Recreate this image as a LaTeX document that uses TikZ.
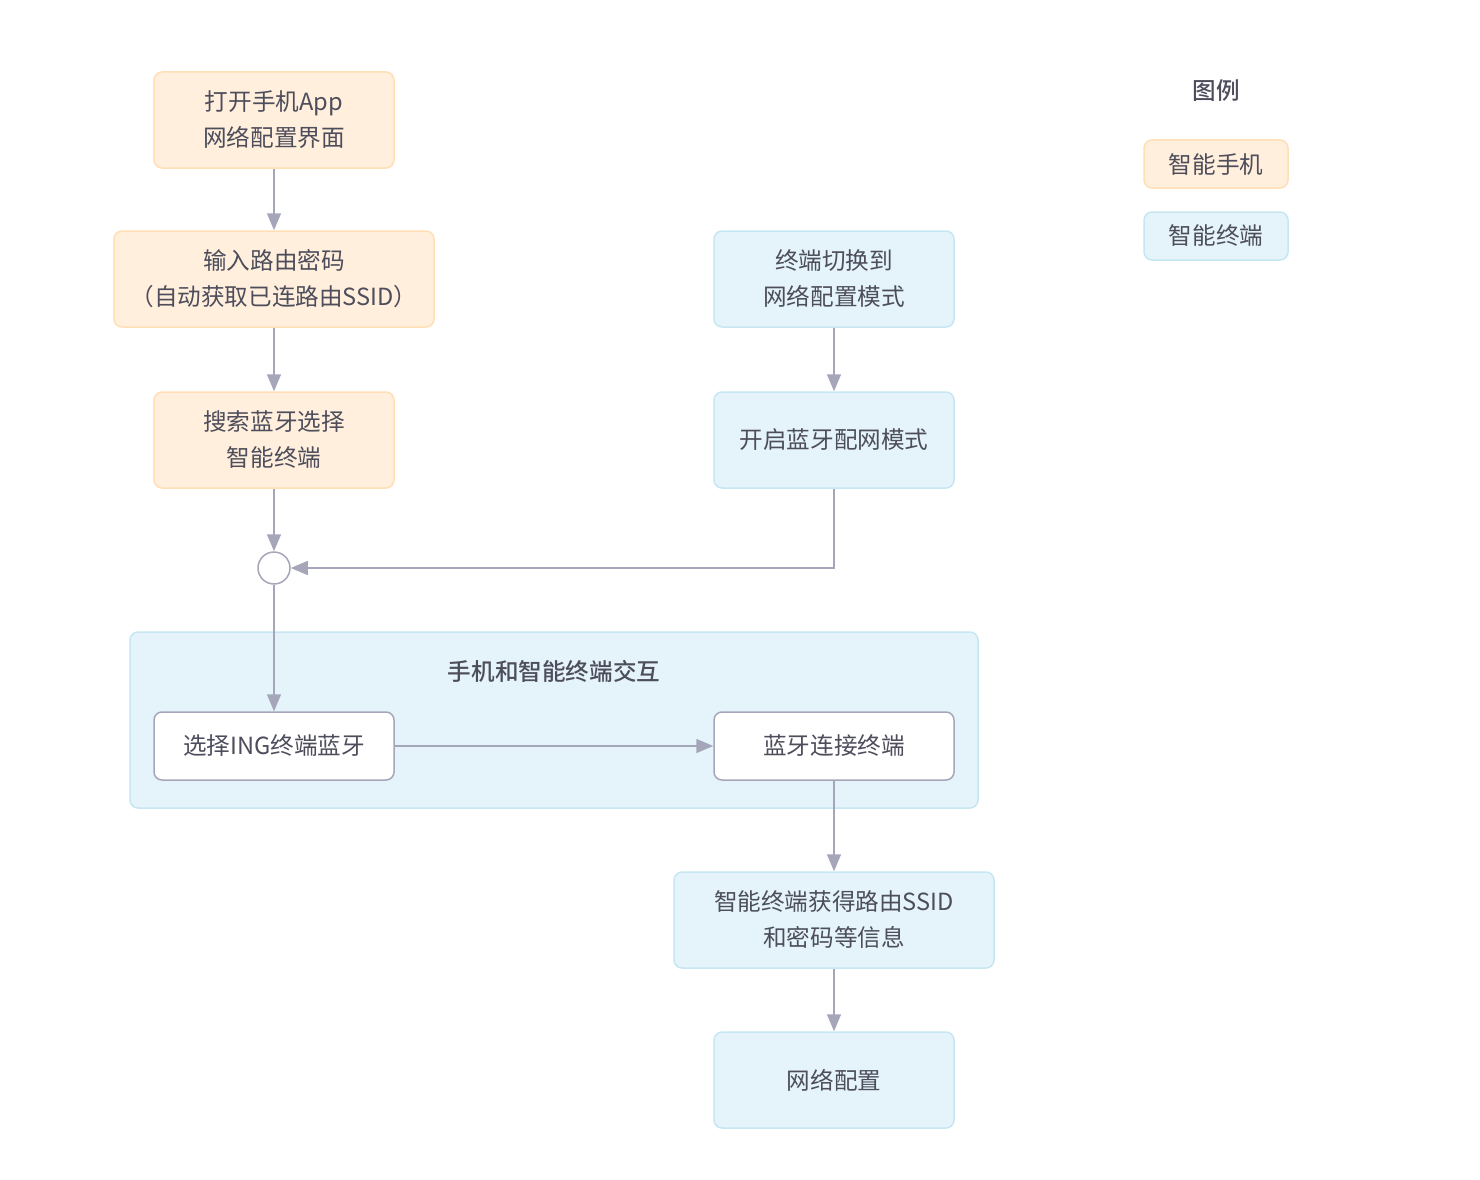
\documentclass[tikz,border=0pt]{standalone}
\usepackage{fontspec}
\setmainfont{Noto Sans CJK SC}
\newfontfamily\medfont{Noto Sans CJK SC}[UprightFont={* Medium}]
\usetikzlibrary{arrows.meta}
\definecolor{txt}{HTML}{4D4D5C}
\definecolor{ofill}{HTML}{FFEFDC}
\definecolor{oline}{HTML}{FFDFB5}
\definecolor{bfill}{HTML}{E4F4FA}
\definecolor{bline}{HTML}{C6E7F1}
\definecolor{arr}{HTML}{A6A6BA}
\tikzset{
  base/.style={rounded corners=8pt, line width=1.5pt, align=center, text=txt,
    font=\fontsize{23.6pt}{36pt}\selectfont, inner sep=0pt},
  phone/.style={base, fill=ofill, draw=oline},
  term/.style={base, fill=bfill, draw=bline},
  white/.style={base, fill=white, draw=arr},
  title/.style={text=txt, font=\medfont\fontsize{23.6pt}{28pt}\selectfont},
  conn/.style={draw=arr, line width=1.5pt, -{Triangle[width=14pt,length=17pt]}},
}
\begin{document}
\begin{tikzpicture}[x=1pt,y=-1pt]
\useasboundingbox (0,0) rectangle (1480,1180);
% group
\node[term, minimum width=848pt, minimum height=176pt] (grp) at (554,720) {};
\node[title] (gtitle) at (554,671) {手机和智能终端交互};
% phone nodes
\node[phone, minimum width=240pt, minimum height=96pt] (n1) at (274,120) {打开手机App\\网络配置界面};
\node[phone, minimum width=320pt, minimum height=96pt] (n2) at (274,279) {输入路由密码\\（自动获取已连路由SSID）};
\node[phone, minimum width=240pt, minimum height=96pt] (n3) at (274,440) {搜索蓝牙选择\\智能终端};
\node[circle, draw=arr, fill=white, line width=1.5pt, minimum size=32pt, inner sep=0pt] (c) at (274,568) {};
% terminal nodes
\node[term, minimum width=240pt, minimum height=96pt] (t1) at (834,279) {终端切换到\\网络配置模式};
\node[term, minimum width=240pt, minimum height=96pt] (t2) at (834,440) {开启蓝牙配网模式};
\node[white, minimum width=240pt, minimum height=68pt] (s1) at (274,746) {选择ING终端蓝牙};
\node[white, minimum width=240pt, minimum height=68pt] (s2) at (834,746) {蓝牙连接终端};
\node[term, minimum width=320pt, minimum height=96pt] (t3) at (834,920) {智能终端获得路由SSID\\和密码等信息};
\node[term, minimum width=240pt, minimum height=96pt] (t4) at (834,1080) {网络配置};
% legend
\node[title] (lt) at (1216,91) {图例};
\node[phone, minimum width=144pt, minimum height=48pt] (l1) at (1216,164) {智能手机};
\node[term, minimum width=144pt, minimum height=48pt] (l2) at (1216,236) {智能终端};
% connectors
\draw[conn] (n1) -- (n2);
\draw[conn] (n2) -- (n3);
\draw[conn] (n3) -- (c);
\draw[conn] (t1) -- (t2);
\draw[conn] (t2.south) |- (c.east);
\draw[conn] (c) -- (s1);
\draw[conn] (s1) -- (s2);
\draw[conn] (s2) -- (t3);
\draw[conn] (t3) -- (t4);
\end{tikzpicture}
\end{document}
